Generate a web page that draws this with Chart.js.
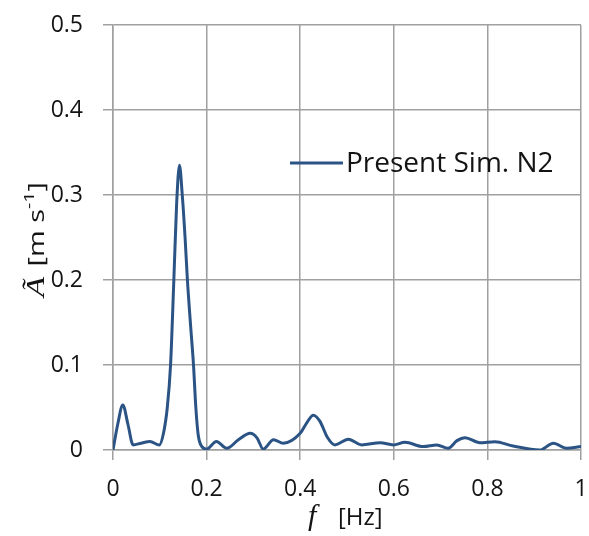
<!DOCTYPE html>
<html>
<head>
<meta charset="utf-8">
<script src="https://cdn.jsdelivr.net/npm/chart.js@4"></script>
<style>
body { margin: 0; background: #fff; }
#wrap { width: 589px; height: 536px; }
</style>
</head>
<body>
<div id="wrap"><canvas id="graphique"></canvas></div>
<script>
const label = "Present Sim. N2";
const freqs = [0, 0.01, 0.021, 0.032, 0.043, 0.06, 0.079, 0.099, 0.108, 0.116, 0.123, 0.13, 0.136, 0.142, 0.148, 0.154, 0.159, 0.166, 0.172, 0.177, 0.182, 0.19, 0.2, 0.221, 0.243, 0.268, 0.293, 0.308, 0.321, 0.343, 0.364, 0.4, 0.414, 0.428, 0.442, 0.458, 0.474, 0.503, 0.531, 0.571, 0.599, 0.624, 0.663, 0.692, 0.716, 0.735, 0.752, 0.784, 0.816, 0.855, 0.912, 0.941, 0.969, 1.0];
const amps = [0, 0.03, 0.053, 0.03, 0.006, 0.008, 0.01, 0.006, 0.02, 0.05, 0.1, 0.2, 0.29, 0.335, 0.3, 0.25, 0.2, 0.145, 0.1, 0.05, 0.018, 0.004, 0.001, 0.01, 0.002, 0.012, 0.0196, 0.014, 0.001, 0.012, 0.008, 0.0196, 0.032, 0.041, 0.034, 0.015, 0.006, 0.0126, 0.006, 0.0086, 0.006, 0.009, 0.004, 0.006, 0.002, 0.011, 0.0145, 0.0086, 0.0098, 0.0047, 0, 0.008, 0.002, 0.004];
const xTicks = [0, 0.2, 0.4, 0.6, 0.8, 1];
const yTicks = [0, 0.1, 0.2, 0.3, 0.4, 0.5];

const couleur = "#2b5485";
const grille = "#a0a0a0";
const police = "'Open Sans', sans-serif";
const encre = "#141414";

const points = freqs.map((f, i) => ({ x: f, y: amps[i] }));

// pas de marge automatique pour les étiquettes : la zone du graphique est fixée par layout.padding
function sansMarge(s) {
	s.paddingTop = 0;
	s.paddingBottom = 0;
	s.paddingLeft = 0;
	s.paddingRight = 0;
}

// titres des axes et légende dessinés à la main
const decor = {
	id: "decor",
	afterDraw(chart) {
		const ctx = chart.ctx;
		ctx.save();
		ctx.fillStyle = encre;
		ctx.textBaseline = "alphabetic";

		// titre x
		ctx.font = "italic 30px 'Liberation Serif'";
		ctx.fillText("f", 308, 525);
		ctx.font = "24px " + police;
		ctx.fillText("[Hz]", 338, 525);

		// titre y (étiré pour couvrir la même longueur que l'original)
		ctx.translate(44, 297);
		ctx.rotate(-Math.PI / 2);
		const parts = [
			["Ã", "italic 25px 'Liberation Serif'", 0, 0],
			["[m s", "22px " + police, 0, 8],
			["-1", "15px " + police, -10, 0],
			["]", "22px " + police, 0, 0],
		];
		let total = 0;
		for (const p of parts) { ctx.font = p[1]; total += ctx.measureText(p[0]).width + p[3]; }
		ctx.scale(115 / total, 1);
		let cx = 0;
		for (const p of parts) {
			ctx.font = p[1];
			cx += p[3];
			ctx.fillText(p[0], cx, p[2]);
			cx += ctx.measureText(p[0]).width;
		}
		ctx.setTransform(1, 0, 0, 1, 0, 0);

		// légende
		const ds = chart.data.datasets[0];
		ctx.strokeStyle = ds.borderColor;
		ctx.lineWidth = 3;
		ctx.beginPath();
		ctx.moveTo(290, 163);
		ctx.lineTo(343, 163);
		ctx.stroke();
		ctx.font = "28px " + police;
		ctx.textBaseline = "middle";
		ctx.fillText(ds.label, 346, 164);
		ctx.restore();
	},
};

const config = {
	type: "line",
	data: {
		datasets: [
			{
				label: label,
				data: points,
				borderColor: couleur,
				borderWidth: 3,
				pointRadius: 0,
				cubicInterpolationMode: "monotone",
				fill: false,
			},
		],
	},
	options: {
		responsive: true,
		maintainAspectRatio: false,
		animation: false,
		layout: { padding: { top: 25, right: 8, left: 0, bottom: 0 } },
		plugins: { legend: { display: false }, tooltip: { enabled: false } },
		scales: {
			x: {
				type: "linear",
				min: 0,
				max: 1,
				afterBuildTicks: (s) => { s.ticks = xTicks.map((v) => ({ value: v })); },
				afterFit: (s) => { s.height = 86; sansMarge(s); },
				grid: { color: grille, lineWidth: 1.5, tickLength: 10 },
				border: { color: grille, width: 1.5 },
				ticks: { color: encre, font: { family: police, size: 23 }, padding: 16, maxRotation: 0, callback: (v) => String(v) },
			},
			y: {
				min: 0,
				max: 0.5,
				afterBuildTicks: (s) => { s.ticks = yTicks.map((v) => ({ value: v })); },
				afterFit: (s) => { s.width = 113; sansMarge(s); },
				grid: { color: grille, lineWidth: 1.5, tickLength: 10 },
				border: { color: grille, width: 1.5 },
				ticks: { color: encre, font: { family: police, size: 23 }, padding: 20, callback: (v) => String(v) },
			},
		},
	},
	plugins: [decor],
};

const graphique = new Chart(document.querySelector("#graphique"), config);
</script>
</body>
</html>
